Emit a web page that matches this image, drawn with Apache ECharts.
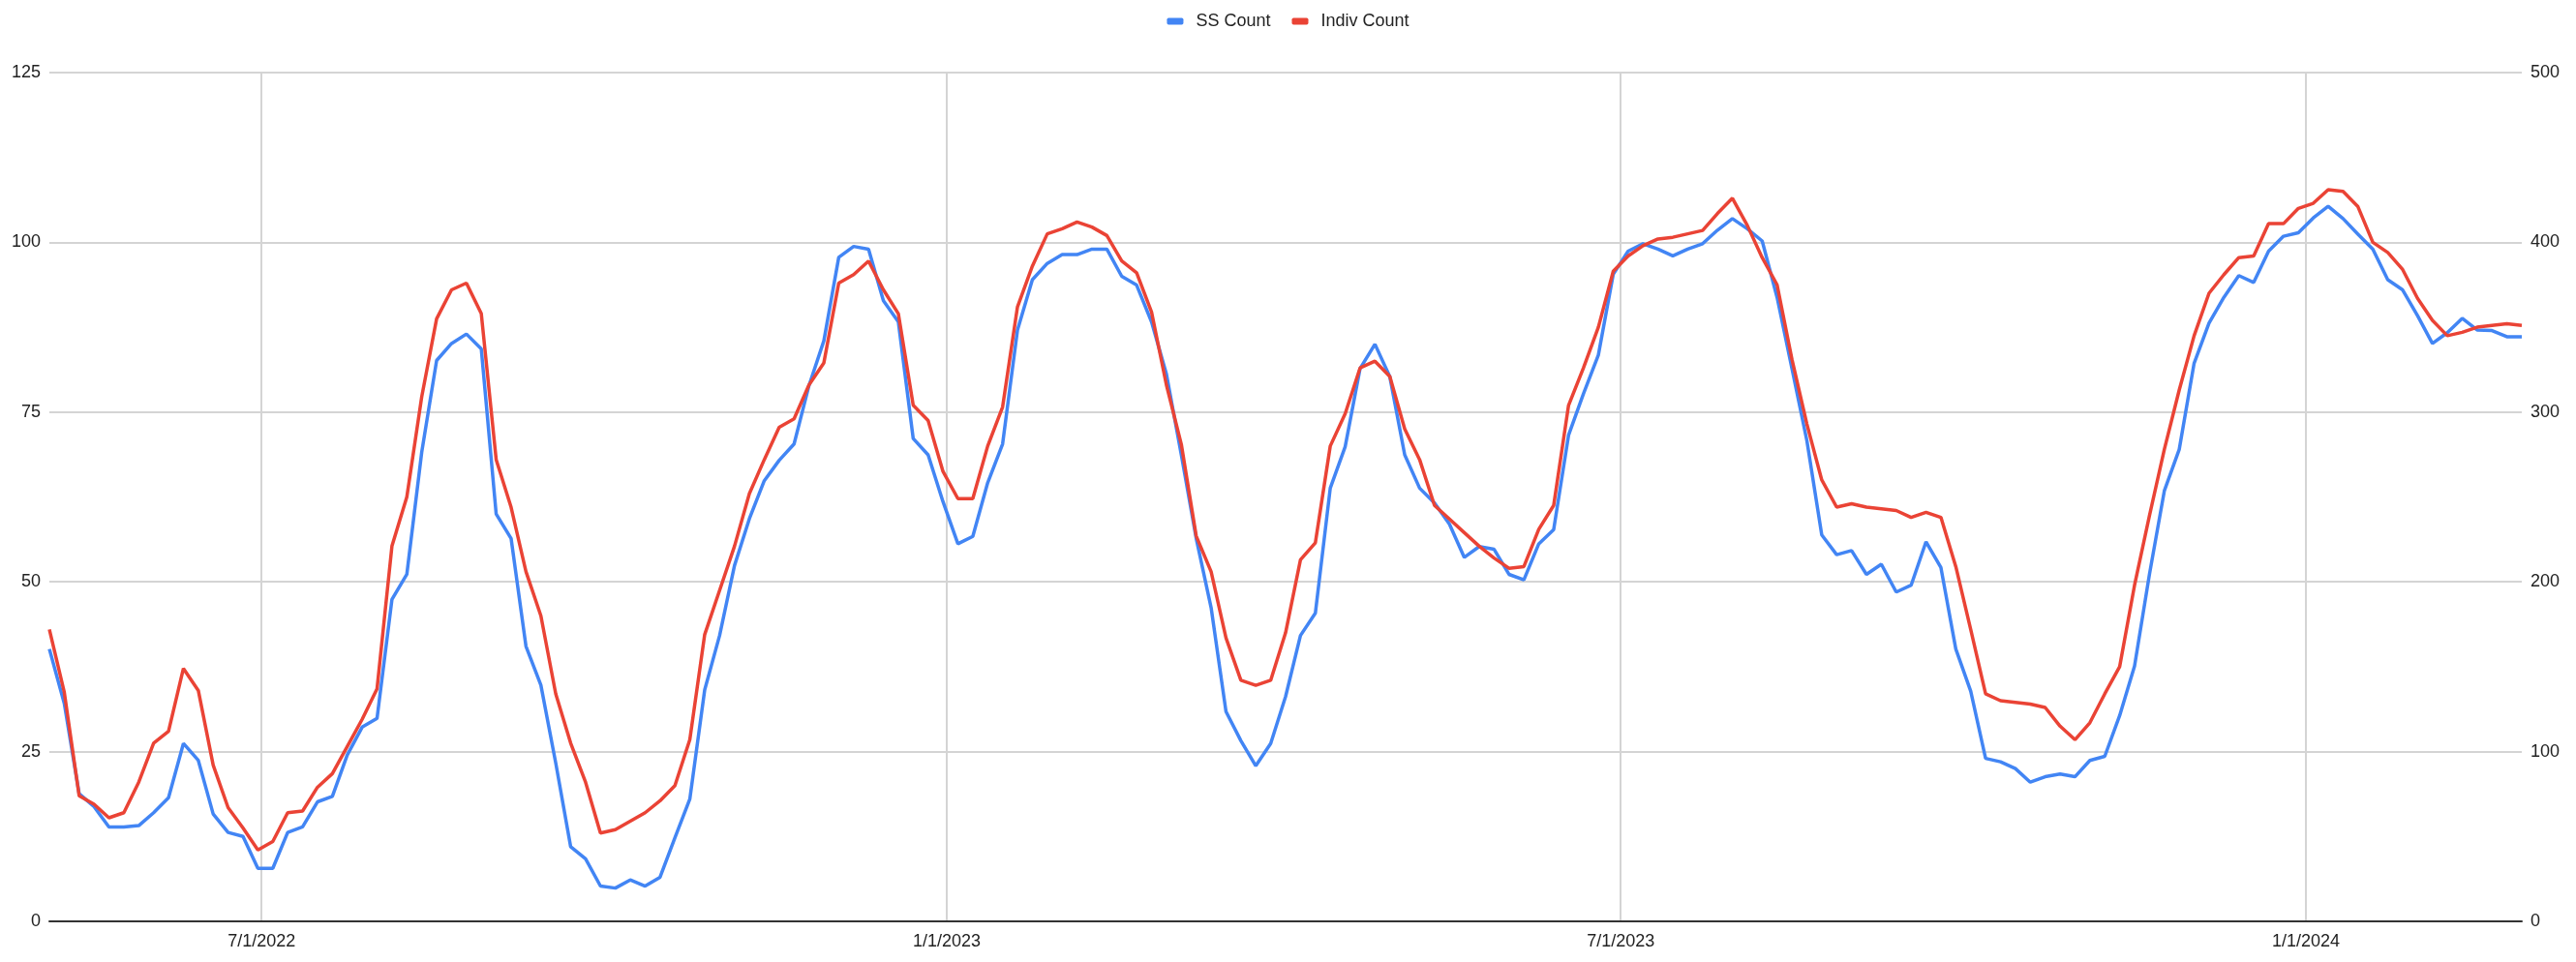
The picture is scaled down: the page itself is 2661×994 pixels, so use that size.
<!DOCTYPE html>
<html>
<head>
<meta charset="utf-8">
<script src="https://cdn.jsdelivr.net/npm/echarts@6/dist/echarts.min.js"></script>
<style>
  html, body { margin: 0; padding: 0; background: #fff; }
  #chart { width: 2661px; height: 994px; }
</style>
</head>
<body>
<div id="chart"></div>
<script>
// Sampling: every 4 days starting 2022-05-05
const startDate = [2022, 4, 5];
const stepDays = 4;

const seriesNames = ['SS Count', 'Indiv Count'];

const ssCount = [
  40.1, 32.1, 18.8, 16.9, 13.9, 13.9, 14.1, 16.0, 18.2, 26.2,
  23.7, 15.8, 13.1, 12.5, 7.8, 7.8, 13.1, 13.9, 17.6, 18.4,
  24.5, 28.6, 29.9, 47.4, 51.1, 69.1, 82.6, 85.1, 86.5, 84.3,
  60.0, 56.4, 40.5, 34.8, 23.3, 11.0, 9.2, 5.2, 4.9, 6.1,
  5.2, 6.5, 12.3, 18.0, 34.1, 42.1, 52.4, 59.3, 64.9, 67.9,
  70.3, 78.9, 85.5, 97.8, 99.4, 99.0, 91.4, 88.3, 71.1, 68.7,
  61.8, 55.6, 56.7, 64.6, 70.3, 87.1, 94.5, 96.9, 98.2, 98.2,
  99.0, 99.0, 95.0, 93.7, 88.3, 80.6, 68.7, 56.4, 46.2, 30.9,
  26.6, 22.9, 26.2, 33.1, 42.1, 45.4, 63.8, 69.9, 81.4, 85.0,
  80.2, 68.7, 63.8, 61.6, 58.5, 53.6, 55.2, 54.8, 51.1, 50.3,
  55.6, 57.7, 71.6, 77.7, 83.4, 95.3, 98.7, 99.8, 99.0, 98.0,
  99.0, 99.8, 101.8, 103.5, 102.0, 100.2, 91.9, 81.4, 70.8, 56.9,
  54.0, 54.6, 51.1, 52.6, 48.5, 49.5, 55.9, 52.1, 40.1, 33.9,
  24.0, 23.5, 22.5, 20.5, 21.3, 21.7, 21.3, 23.7, 24.3, 30.3,
  37.6, 51.1, 63.4, 69.5, 82.2, 88.1, 91.9, 95.1, 94.1, 98.7,
  100.9, 101.4, 103.6, 105.3, 103.5, 101.2, 99.0, 94.5, 93.0, 89.2,
  85.1, 86.7, 88.8, 87.1, 87.0, 86.1, 86.1
];

const indivCount = [
  172, 135, 74, 69, 61, 64, 82, 105, 112, 149,
  136, 92, 67, 55, 42, 47, 64, 65, 79, 87,
  103, 119, 137, 221, 250, 309, 355, 372, 376, 358,
  272, 244, 206, 180, 134, 105, 82, 52, 54, 59,
  64, 71, 80, 107, 169, 195, 221, 252, 272, 291,
  296, 316, 329, 376, 381, 389, 372, 358, 304, 295,
  265, 249, 249, 280, 303, 362, 386, 405, 408, 412,
  409, 404, 389, 382, 359, 316, 281, 227, 206, 167,
  142, 139, 142, 170, 213, 223, 280, 299, 326, 330,
  321, 290, 272, 245, 237, 229, 221, 214, 208, 209,
  231, 245, 304, 326, 350, 383, 392, 398, 402, 403,
  405, 407, 417, 426, 410, 391, 375, 331, 293, 260,
  244, 246, 244, 243, 242, 238, 241, 238, 209, 172,
  134, 130, 129, 128, 126, 115, 107, 117, 134, 150,
  198, 239, 278, 313, 345, 370, 381, 391, 392, 411,
  411, 420, 423, 431, 430, 421, 400, 394, 384, 367,
  354, 345, 347, 350, 351, 352, 351
];

const xTickDates = ['2022-07-01', '2023-01-01', '2023-07-01', '2024-01-01'];
const leftTicks = { min: 0, max: 125, interval: 25 };
const rightTicks = { min: 0, max: 500, interval: 100 };

const DAY = 86400000;
const t0 = Date.UTC(startDate[0], startDate[1], startDate[2]);
function dayOffset(s) {
  const p = s.split('-').map(Number);
  return Math.round((Date.UTC(p[0], p[1] - 1, p[2]) - t0) / DAY);
}
function labelFor(day) {
  const d = new Date(t0 + day * DAY);
  return (d.getUTCMonth() + 1) + '/' + d.getUTCDate() + '/' + d.getUTCFullYear();
}
const days = ssCount.map((_, i) => i * stepDays);
const ssData = ssCount.map((v, i) => [days[i], v]);
const indivData = indivCount.map((v, i) => [days[i], v]);
const tickDays = xTickDates.map(dayOffset);

const chart = echarts.init(document.getElementById('chart'), null, { renderer: 'canvas' });
const font = 'Liberation Sans, Arial, sans-serif';
chart.setOption({
  animation: false,
  backgroundColor: '#ffffff',
  color: ['#4285F4', '#EA4335'],
  legend: {
    top: 8,
    left: 'center',
    itemWidth: 17,
    itemHeight: 7,
    itemGap: 22,
    icon: 'roundRect',
    textStyle: { fontFamily: font, fontSize: 18, color: '#222', padding: [0, 0, 0, 8] },
    data: seriesNames
  },
  grid: { left: 51, right: 56, top: 75, bottom: 42, containLabel: false },
  xAxis: {
    type: 'value',
    min: days[0],
    max: days[days.length - 1],
    axisLine: { show: true, onZero: false, lineStyle: { color: '#333', width: 2 } },
    axisTick: { show: false, customValues: tickDays },
    axisLabel: {
      customValues: tickDays,
      fontFamily: font, fontSize: 18, color: '#222', margin: 12,
      formatter: function (v) { return labelFor(v); }
    },
    splitLine: { show: true, lineStyle: { color: '#d4d4d4', width: 2 } }
  },
  yAxis: [
    {
      type: 'value',
      min: leftTicks.min, max: leftTicks.max, interval: leftTicks.interval,
      axisLine: { show: false }, axisTick: { show: false },
      axisLabel: { fontFamily: font, fontSize: 18, color: '#222', margin: 9 },
      splitLine: { show: true, lineStyle: { color: '#d4d4d4', width: 2 } }
    },
    {
      type: 'value',
      min: rightTicks.min, max: rightTicks.max, interval: rightTicks.interval,
      axisLine: { show: false }, axisTick: { show: false },
      axisLabel: { fontFamily: font, fontSize: 18, color: '#222', margin: 9 },
      splitLine: { show: false }
    }
  ],
  series: [
    {
      name: seriesNames[0], type: 'line', yAxisIndex: 0, data: ssData,
      showSymbol: false, symbol: 'none', lineStyle: { width: 3.5, color: '#4285F4' },
      itemStyle: { color: '#4285F4' }, z: 3
    },
    {
      name: seriesNames[1], type: 'line', yAxisIndex: 1, data: indivData,
      showSymbol: false, symbol: 'none', lineStyle: { width: 3.5, color: '#EA4335' },
      itemStyle: { color: '#EA4335' }, z: 4
    }
  ]
});
</script>
</body>
</html>
